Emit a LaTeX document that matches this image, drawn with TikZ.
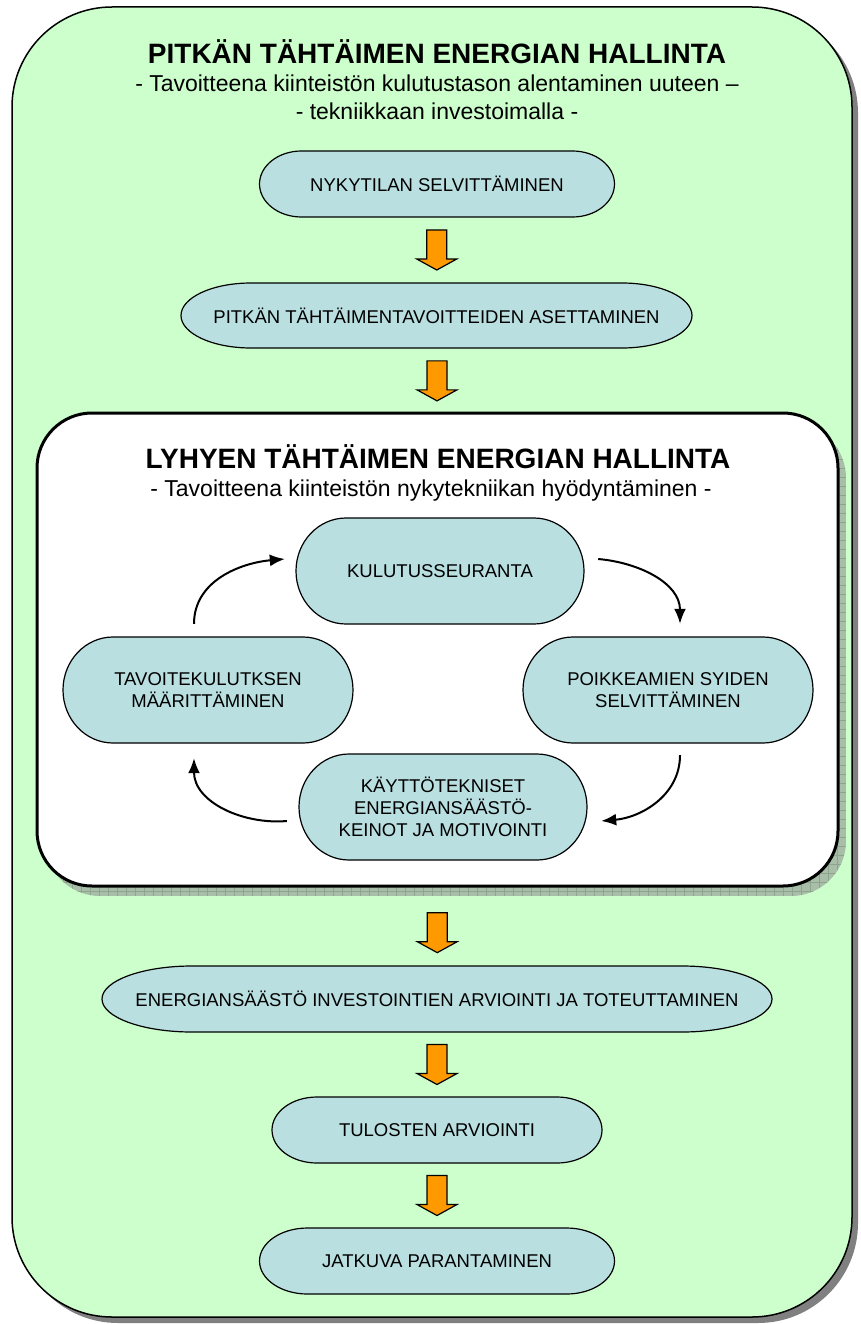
\documentclass[tikz,border=0pt]{standalone}
\usepackage{fontspec}
\setmainfont{Liberation Sans}
\usepackage{tikz}
\usetikzlibrary{calc, positioning, arrows.meta, shadows}

\definecolor{taustavihrea}{RGB}{204,255,204}
\definecolor{solmusini}{RGB}{185,223,225}
\definecolor{nuolioranssi}{RGB}{255,153,0}
\definecolor{varjoharmaa}{RGB}{128,128,128}
\definecolor{varjovihrea}{RGB}{168,190,168}
\definecolor{varjoruutu}{RGB}{140,165,140}

\tikzset{
  ulkolaatikko/.style={draw=black, line width=1.5pt, fill=taustavihrea, rounded corners=100pt,
    drop shadow={shadow xshift=6pt, shadow yshift=-6pt, fill=varjoharmaa, opacity=1}},
  sisalaatikko/.style={draw=black, line width=3pt, fill=white, rounded corners=55pt,
    minimum width=801pt, minimum height=473pt, inner sep=0pt},
  otsikko/.style={font=\fontsize{28}{32}\selectfont\bfseries, inner sep=0pt},
  alaotsikko/.style={font=\fontsize{23}{28}\selectfont, align=center, inner sep=0pt},
  solmu/.style 2 args={minimum width=#1pt, minimum height=#2pt, inner sep=0pt,
    align=center, font=\fontsize{18.5}{22}\selectfont},
  paateviiva/.style={fill=solmusini, draw=black, line width=1.2pt},
  % paatysolmun reunus: leveys / korkeus / paadyn sade
  pics/terminaali/.style args={#1/#2/#3}{code={
    \draw[paateviiva] (-#1/2+#3, #2/2) -- (#1/2-#3, #2/2)
      arc[start angle=90, end angle=-90, x radius=#3, y radius=#2/2]
      -- (-#1/2+#3, -#2/2)
      arc[start angle=270, end angle=90, x radius=#3, y radius=#2/2] -- cycle;}},
  nuolimuoto/.style={fill=nuolioranssi, draw=black, line width=1.2pt, line join=miter},
  pics/nuoli/.style={code={
    \draw[nuolimuoto] (-10,20) -- (10,20) -- (10,-9) -- (20,-9) -- (0,-20) -- (-20,-9) -- (-10,-9) -- cycle;}},
  kierto/.style={-{Latex[length=15pt, width=12pt]}, line width=2pt}
}

\begin{document}
\begin{tikzpicture}[x=1pt, y=1pt]
    \useasboundingbox (0,0) rectangle (861,-1324);

    % Pitkan tahtaimen kehys
    \draw[ulkolaatikko] (12,-7) rectangle (852,-1317);
    \node[otsikko, anchor=base] (pitkaotsikko) at (437,-64) {PITKÄN TÄHTÄIMEN ENERGIAN HALLINTA};
    \node[alaotsikko, anchor=base] (pitkaselite) at (437,-120)
        {- Tavoitteena kiinteistön kulutustason alentaminen uuteen –\\- tekniikkaan investoimalla -};

    \pic at (437,-184) {terminaali=355/66/42};
    \node[solmu={355}{66}] (nyky) at (437,-184) {NYKYTILAN SELVITTÄMINEN};
    \pic at (436.5,-315.5) {terminaali=511/65/70};
    \node[solmu={511}{65}] (pitka) at (436.5,-315.5) {PITKÄN TÄHTÄIMENTAVOITTEIDEN ASETTAMINEN};

    % Lyhyen tahtaimen kehys ja ruudukkovarjo
    \begin{scope}
        \clip[rounded corners=55pt] (45,-423) rectangle (846,-896);
        \fill[varjovihrea] (45,-423) rectangle (846,-896);
        \draw[varjoruutu, line width=0.6pt, step=9pt] (45,-423) grid (846,-896);
    \end{scope}
    \node[sisalaatikko] (lyhyt) at (437.5,-649.5) {};
    \node[otsikko, anchor=base] (lyhytotsikko) at (438,-468) {LYHYEN TÄHTÄIMEN ENERGIAN HALLINTA};
    \node[alaotsikko, anchor=base] (lyhytselite) at (431,-496)
        {- Tavoitteena kiinteistön nykytekniikan hyödyntäminen -};

    \pic at (440,-571) {terminaali=288/106/50};
    \node[solmu={288}{106}] (kulutus) at (440,-571) {KULUTUSSEURANTA};
    \pic at (208,-690) {terminaali=290/106/50};
    \node[solmu={290}{106}] (tavoite) at (208,-690) {TAVOITEKULUTKSEN\\MÄÄRITTÄMINEN};
    \pic at (668,-690) {terminaali=290/106/50};
    \node[solmu={290}{106}] (poikkeama) at (668,-690) {POIKKEAMIEN SYIDEN\\SELVITTÄMINEN};
    \pic at (443,-807) {terminaali=288/106/50};
    \node[solmu={288}{106}] (kaytto) at (443,-807) {KÄYTTÖTEKNISET\\ENERGIANSÄÄSTÖ-\\KEINOT JA MOTIVOINTI};

    % Kiertonuolet
    \draw[kierto] ($(tavoite.north)+(-14,13)$) to[out=90, in=185] ($(kulutus.west)+(-11,12)$);
    \draw[kierto] ($(kulutus.east)+(14,12)$) to[out=-5, in=90] ($(poikkeama.north)+(12,13)$);
    \draw[kierto] ($(poikkeama.south)+(12,-12)$) to[out=-90, in=5] ($(kaytto.east)+(14,-14)$);
    \draw[kierto] ($(kaytto.west)+(-12,-14)$) to[out=185, in=-90] ($(tavoite.south)+(-14,-15)$);

    \pic at (437,-999) {terminaali=670/66/90};
    \node[solmu={670}{66}] (inv) at (437,-999) {ENERGIANSÄÄSTÖ INVESTOINTIEN ARVIOINTI JA TOTEUTTAMINEN};
    \pic at (437,-1130) {terminaali=330/66/45};
    \node[solmu={330}{66}] (tulos) at (437,-1130) {TULOSTEN ARVIOINTI};
    \pic at (437,-1261) {terminaali=355/66/48};
    \node[solmu={355}{66}] (jatkuva) at (437,-1261) {JATKUVA PARANTAMINEN};

    % Oranssit nuolet
    \foreach \a/\b/\s in {nyky/pitka/0, pitka/lyhyt/1, lyhyt/inv/6, inv/tulos/0, tulos/jatkuva/0}
        \pic at ($(\a.south)!0.5!(\b.north)+(0,-\s)$) {nuoli};
\end{tikzpicture}
\end{document}
